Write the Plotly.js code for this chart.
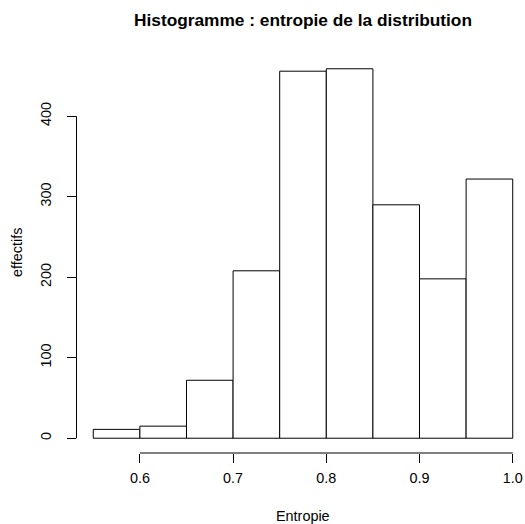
<!DOCTYPE html>
<html>
<head>
<meta charset="utf-8">
<script src="https://cdn.plot.ly/plotly-3.0.1.min.js"></script>
<style>html,body{margin:0;padding:0;background:#fff;}#chart{width:525px;height:524px;}</style>
</head>
<body>
<div id="chart"></div>
<script>
// Data
const breaks = [0.55, 0.60, 0.65, 0.70, 0.75, 0.80, 0.85, 0.90, 0.95, 1.00];
const counts = [11, 15, 72, 208, 456, 459, 290, 198, 322];
const xTickVals = [0.6, 0.7, 0.8, 0.9, 1.0];
const xTickText = ["0.6", "0.7", "0.8", "0.9", "1.0"];
const yTickVals = [0, 100, 200, 300, 400];
const yTickText = ["0", "100", "200", "300", "400"];
const titleText = "Histogramme : entropie de la distribution";
const xTitle = "Entropie";
const yTitle = "effectifs";

const mids = counts.map((c, i) => (breaks[i] + breaks[i + 1]) / 2);
const widths = counts.map((c, i) => breaks[i + 1] - breaks[i]);

const font = "Liberation Sans, Arial, Helvetica, sans-serif";
const maxC = Math.max(...counts);
const xlo = breaks[0], xhi = breaks[breaks.length - 1];
const xr = xhi - xlo;
const xmin = xlo - 0.04 * xr;
const ymin = -0.04 * maxC, ymax = 1.04 * maxC;

const trace = {
  type: 'bar',
  x: mids,
  y: counts,
  width: widths,
  marker: {color: '#ffffff', line: {color: '#000000', width: 1}},
  hoverinfo: 'x+y'
};

const W = 525, H = 524;
const mL = 20;                 // page margin
const plotLeft = 76.5, plotRight = 525;
const fullRight = 529.5;
const xmaxFull = xhi + 0.04 * xr;
const xmax = xmin + (xmaxFull - xmin) * (plotRight - plotLeft) / (fullRight - plotLeft);
const paperW = W - mL;
const domStart = (plotLeft - mL) / paperW;
const labelAxisPx = 66;        // where the label-only axis sits

const tickFont = {family: font, size: 14.4, color: '#000000'};
const layout = {
  width: W,
  height: H,
  margin: {l: mL, r: 0, t: 54, b: 71, pad: 0},
  paper_bgcolor: '#ffffff',
  plot_bgcolor: '#ffffff',
  showlegend: false,
  bargap: 0,
  font: {family: font, size: 14.4, color: '#000000'},
  title: {
    text: '<b>' + titleText + '</b>',
    font: {family: font, size: 17.3, color: '#000000'},
    xref: 'container', x: 303 / W, xanchor: 'center',
    yref: 'container', y: 1 - 20 / H, yanchor: 'middle'
  },
  xaxis: {
    domain: [domStart, 1],
    range: [xmin, xmax],
    tickmode: 'array', tickvals: xTickVals, ticktext: xTickText,
    ticks: 'outside', ticklen: 9, tickwidth: 1, tickcolor: '#000000',
    ticklabelstandoff: 3,
    showline: false, showgrid: false, zeroline: false,
    tickfont: tickFont,
    automargin: false
  },
  yaxis: {
    range: [ymin, ymax],
    tickmode: 'array', tickvals: yTickVals,
    ticks: 'outside', ticklen: 9, tickwidth: 1, tickcolor: '#000000',
    showticklabels: false,
    showline: false, showgrid: false, zeroline: false,
    automargin: false
  },
  yaxis2: {
    overlaying: 'y', side: 'left',
    anchor: 'free', position: (labelAxisPx - mL) / paperW,
    range: [ymin, ymax],
    tickmode: 'array', tickvals: yTickVals, ticktext: yTickText,
    ticks: 'outside', ticklen: 9, tickwidth: 1, tickcolor: 'rgba(0,0,0,0)',
    tickangle: -90,
    showline: false, showgrid: false, zeroline: false,
    tickfont: tickFont,
    automargin: false
  },
  annotations: [
    {text: xTitle, xref: 'paper', yref: 'paper',
     x: (303 - mL) / paperW, y: -(516 - 453) / (453 - 54),
     xanchor: 'center', yanchor: 'middle', showarrow: false,
     font: {family: font, size: 14.4, color: '#000000'}},
    {text: yTitle, xref: 'paper', yref: 'paper', textangle: -90,
     x: (17 - mL) / paperW, y: (453 - 253) / (453 - 54),
     xanchor: 'center', yanchor: 'middle', showarrow: false,
     font: {family: font, size: 14.4, color: '#000000'}}
  ],
  shapes: [
    {type: 'line', xref: 'x', yref: 'paper', x0: xTickVals[0], x1: xTickVals[xTickVals.length - 1], y0: 0, y1: 0,
     line: {color: '#000000', width: 1}},
    {type: 'line', xref: 'x domain', yref: 'y', x0: 0, x1: 0, y0: yTickVals[0], y1: yTickVals[yTickVals.length - 1],
     line: {color: '#000000', width: 1}}
  ]
};

const helper = {type: 'scatter', x: [], y: [], yaxis: 'y2', hoverinfo: 'skip', showlegend: false};

Plotly.newPlot('chart', [trace, helper], layout, {staticPlot: true, displayModeBar: false});
</script>
</body>
</html>
